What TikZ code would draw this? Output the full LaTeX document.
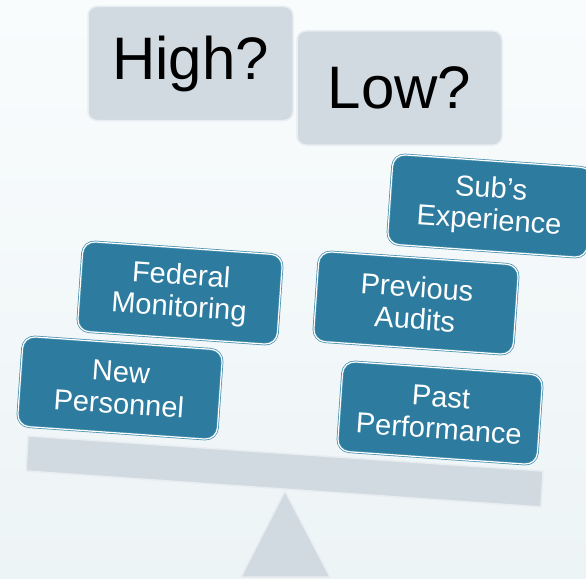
\documentclass[tikz,border=0pt]{standalone}
\usepackage{fontspec}
\setmainfont{Liberation Sans}
\definecolor{tealfill}{HTML}{2D7C9F}
\definecolor{tealline}{HTML}{3F8BAB}
\definecolor{greyfill}{HTML}{D2DAE1}
\definecolor{greyline}{HTML}{E8EDF1}
\definecolor{bgtop}{HTML}{F9FCFD}
\definecolor{bgbot}{HTML}{EDF4F6}
\tikzset{
  qbox/.style={fill=greyfill, draw=greyline, line width=1.5pt, rounded corners=9pt,
    minimum width=205pt, minimum height=114pt, inner sep=0pt,
    font=\fontsize{60}{66}\selectfont, text=black},
  fbox/.style={fill=tealfill, draw=tealline, double=white, double distance=1.2pt,
    line width=0.7pt, rounded corners=12pt, rotate=-4,
    minimum width=200pt, minimum height=90pt, inner sep=0pt, align=center,
    font=\fontsize{29}{32}\selectfont, text=white},
  greyshape/.style={fill=greyfill, draw=greyline, line width=1.5pt, line join=round}
}
\begin{document}
\begin{tikzpicture}[x=1pt,y=-1pt]
\useasboundingbox (0,0) rectangle (586,578);
\shade[top color=bgtop, bottom color=bgbot] (0,0) rectangle (586,578);
% fulcrum and beam
\draw[greyshape] (285,491) -- (330,577) -- (241,577) -- cycle;
\draw[greyshape] (28,436) -- (543,471) -- (541,507) -- (26,471) -- cycle;
% question boxes
\node[qbox] (high) at (190.5,63.5) {High?};
\node[qbox] (low) at (399.5,88) {Low?};
% factor boxes
\node[fbox] (subs) at (490,206) {Sub’s\\Experience};
\node[fbox] (fed) at (180,293) {Federal\\Monitoring};
\node[fbox] (prev) at (416,303) {Previous\\Audits};
\node[fbox] (newp) at (120,388) {New\\Personnel};
\node[fbox] (past) at (440,413) {Past\\Performance};
\end{tikzpicture}
\end{document}
